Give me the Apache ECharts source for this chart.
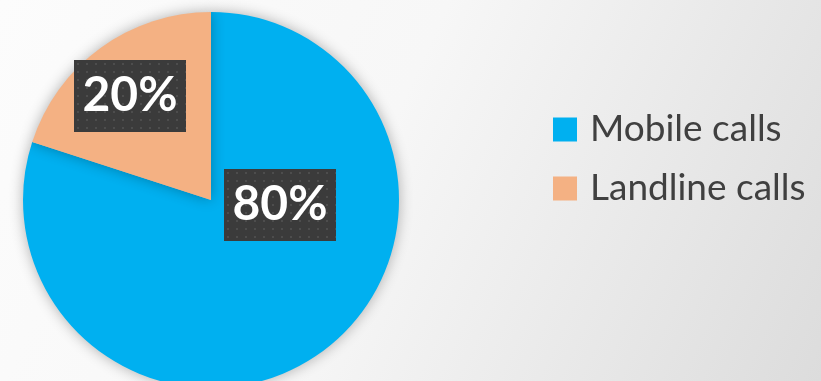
<!DOCTYPE html>
<html>
<head>
<meta charset="utf-8">
<script src="https://cdn.jsdelivr.net/npm/echarts@6/dist/echarts.min.js"></script>
<style>
  html, body { margin: 0; padding: 0; }
  #main { width: 821px; height: 381px; }
</style>
</head>
<body>
<div id="main"></div>
<script>
var categories = ['Mobile calls', 'Landline calls'];
var values = [80, 20];
var colors = ['#00B0F0', '#F4B183'];
// where the percentage boxes sit (pixels)
var labelSpots = [[280, 205], [130, 96]];

// dotted dark fill used behind the percentage labels
function dotPattern(w, h) {
    var c = document.createElement('canvas');
    c.width = w; c.height = h;
    var ctx = c.getContext('2d');
    ctx.fillStyle = '#3b3b3b';
    ctx.fillRect(0, 0, w, h);
    ctx.fillStyle = '#4d4d4d';
    for (var y = 3; y < h; y += 8) {
        for (var x = 3; x < w; x += 9) {
            ctx.fillRect(x, y, 2, 2);
        }
    }
    return c;
}

var myChart = echarts.init(document.getElementById('main'));

var option = {
    backgroundColor: {
        type: 'linear', x: 0, y: 0, x2: 1, y2: 1,
        colorStops: [
            {offset: 0, color: '#fcfcfc'},
            {offset: 0.45, color: '#f7f7f7'},
            {offset: 1, color: '#dcdcdc'}
        ]
    },
    animation: false,
    legend: {
        orient: 'vertical',
        left: 553,
        top: 111,
        padding: 0,
        itemWidth: 24,
        itemHeight: 24,
        itemGap: 22,
        icon: 'rect',
        textStyle: {
            fontFamily: 'Lato',
            fontSize: 37,
            color: '#404040',
            lineHeight: 24,
            padding: [0, 0, 0, 8]
        },
        data: categories
    },
    series: [{
        type: 'pie',
        center: [211, 200],
        radius: 188,
        startAngle: 90,
        clockwise: true,
        itemStyle: {
            shadowBlur: 14,
            shadowColor: 'rgba(0,0,0,0.3)'
        },
        label: {
            show: true,
            position: 'inside',
            formatter: '{d}%',
            fontFamily: 'Lato',
            fontWeight: 'bold',
            fontSize: 48,
            color: '#ffffff',
            width: 112,
            height: 72,
            align: 'center',
            verticalAlign: 'middle',
            lineHeight: 72,
            backgroundColor: {image: dotPattern(112, 72)},
            shadowColor: 'rgba(0,0,0,0.55)',
            shadowBlur: 6,
            shadowOffsetX: 3,
            shadowOffsetY: 3
        },
        labelLine: {show: false},
        labelLayout: function (params) {
            var p = labelSpots[params.dataIndex];
            return {x: p[0], y: p[1], align: 'center', verticalAlign: 'middle'};
        },
        data: categories.map(function (name, i) {
            return {name: name, value: values[i], itemStyle: {color: colors[i]}};
        })
    }]
};

myChart.setOption(option);
</script>
</body>
</html>
